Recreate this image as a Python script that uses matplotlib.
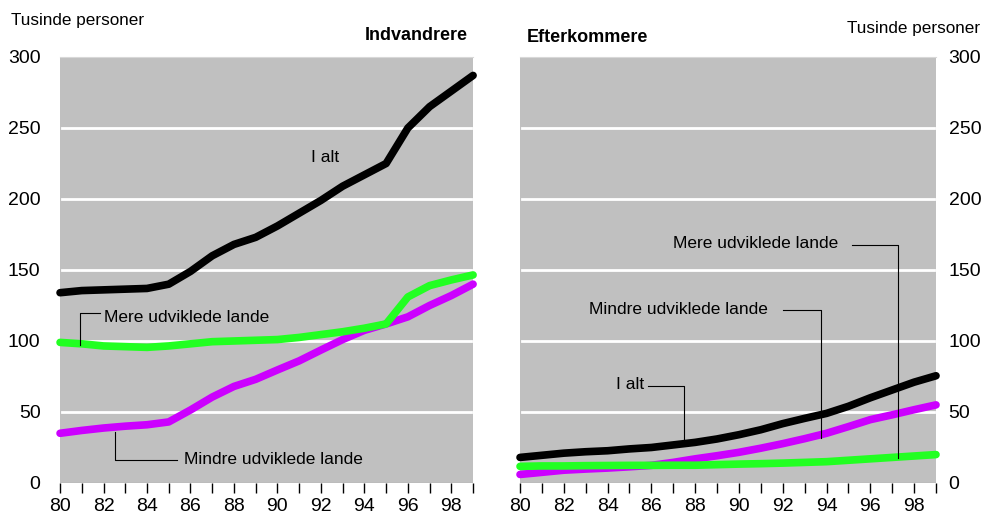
import matplotlib.pyplot as plt

plt.rcParams['font.family'] = ['Liberation Sans', 'DejaVu Sans']

# years 1980-1999
years = list(range(80, 100))

# Indvandrere (thousands)
imm_total = [134, 135.5, 136, 136.5, 137, 140, 149, 160, 168, 173,
             181, 190, 199, 209, 217, 225, 250, 265, 276, 287]
imm_more = [99, 98, 96.5, 96, 95.5, 96.5, 98, 99.5, 100, 100.5,
            101, 102.5, 104.5, 106.5, 109, 112, 131, 139, 143, 146.5]
imm_less = [35, 37, 38.7, 40, 41, 43, 51.4, 60.5, 68, 73,
            79.6, 86, 93.6, 101, 107.5, 112, 117, 125, 132, 140]

# Efterkommere (thousands)
desc_total = [18, 19.5, 21, 22, 22.7, 24, 25, 26.8, 28.6, 31,
              34, 37.5, 41.8, 45.5, 49, 54, 60, 65.5, 71, 75.5]
desc_more = [11.7, 12, 12, 12.2, 12.3, 12.4, 12.4, 12.5, 12.5, 12.9,
             13.3, 13.6, 14, 14.5, 15, 16, 17, 18, 19, 20]
desc_less = [6, 7.5, 9, 9.8, 10.5, 11.4, 12.4, 14.5, 17, 19.2,
             21.6, 24.5, 27.7, 31.2, 35, 39.7, 44.6, 48, 51.6, 55]

BG = '#c0c0c0'
BLACK = '#000000'
GREEN = '#22ff22'
MAGENTA = '#cc00ff'
FS = 14      # tick labels
AFS = 12.5   # annotations

fig = plt.figure(figsize=(9.86, 5.19), dpi=100)
ax1 = fig.add_axes([0.0609, 0.0694, 0.4189, 0.8208])
ax2 = fig.add_axes([0.5274, 0.0694, 0.4219, 0.8208])


def style(ax, right=False):
    ax.set_facecolor(BG)
    ax.set_xlim(80, 99)
    ax.set_ylim(0, 300)
    for s in ax.spines.values():
        s.set_visible(False)
    ax.spines['top'].set_visible(True)
    ax.spines['top'].set_color('#d8d8d8')
    ax.set_yticks(range(0, 301, 50))
    for g in range(50, 300, 50):
        ax.axhline(g, color='white', lw=2, zorder=1, xmin=0.005, xmax=0.995)
    ax.set_xticks(years)
    ax.set_xticklabels([str(y) if y % 2 == 0 else '' for y in years])
    ax.tick_params(axis='x', direction='out', length=7, width=1,
                   labelsize=FS, pad=4)
    ax.tick_params(axis='y', length=0, labelsize=FS, pad=14)
    if right:
        ax.yaxis.tick_right()
        ax.tick_params(axis='y', pad=9)
    ax.axhline(0, color='#888888', lw=0.8, zorder=2)


style(ax1)
style(ax2, right=True)

lw = 5.5
for ax, series in [(ax1, [imm_total, imm_more, imm_less]),
                   (ax2, [desc_total, desc_more, desc_less])]:
    tot, more, less = series
    ax.plot(years, less, color=MAGENTA, lw=lw, solid_capstyle='round',
            solid_joinstyle='round', zorder=3, clip_on=False)
    ax.plot(years, more, color=GREEN, lw=lw, solid_capstyle='round',
            solid_joinstyle='round', zorder=4, clip_on=False)
    ax.plot(years, tot, color=BLACK, lw=lw, solid_capstyle='round',
            solid_joinstyle='round', zorder=5, clip_on=False)

# left annotations
ax1.text(92.2, 229, 'I alt', fontsize=AFS, ha='center', va='center')
ax1.text(82.0, 116.5, 'Mere udviklede lande', fontsize=AFS, va='center')
ax1.plot([80.92, 80.92, 81.85], [97, 120, 120], color='black', lw=0.8, zorder=6)
ax1.text(85.7, 16.5, 'Mindre udviklede lande', fontsize=AFS, va='center')
ax1.plot([82.53, 82.53, 85.4], [36, 16, 16], color='black', lw=0.8, zorder=6)

# right annotations
ax2.text(94.55, 168.5, 'Mere udviklede lande', fontsize=AFS, ha='right', va='center')
ax2.plot([95.15, 97.27, 97.27], [167.3, 167.3, 17.6], color='black', lw=0.8, zorder=6)
ax2.text(91.3, 122.5, 'Mindre udviklede lande', fontsize=AFS, ha='right', va='center')
ax2.plot([92.02, 93.73, 93.73], [121.5, 121.5, 31.7], color='black', lw=0.8, zorder=6)
ax2.text(85.65, 69.5, 'I alt', fontsize=AFS, ha='right', va='center')
ax2.plot([85.86, 87.5, 87.5], [68, 68, 29.3], color='black', lw=0.8, zorder=6)

# titles and unit labels
fig.text(468 / 986, 1 - 35 / 519, 'Indvandrere', fontsize=13, fontweight='bold',
         ha='right', va='center')
fig.text(527 / 986, 1 - 37 / 519, 'Efterkommere', fontsize=13, fontweight='bold',
         ha='left', va='center')
fig.text(11 / 986, 1 - 20 / 519, 'Tusinde personer', fontsize=12.3,
         ha='left', va='center')
fig.text(980 / 986, 1 - 28 / 519, 'Tusinde personer', fontsize=12.3,
         ha='right', va='center')

fig.savefig('out.png', dpi=100, facecolor='white')
